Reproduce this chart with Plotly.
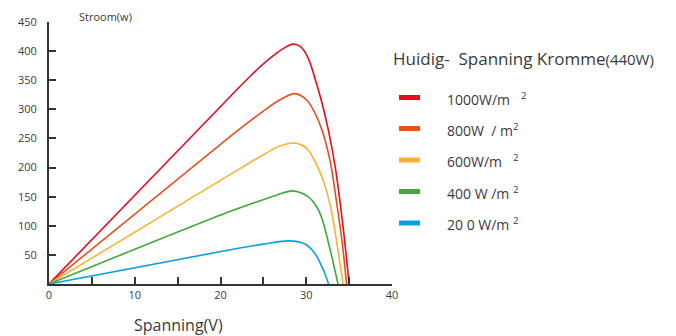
import plotly.graph_objects as go

# ---- data ----
series_names = ["1000W/m2", "800W/m2", "600W/m2", "400W/m2", "200W/m2"]
v_1000 = [0, 21, 23.4, 25, 26.5, 27.5, 28.4, 29.3, 30.2, 31.0, 31.8, 32.6, 33.4, 34.2, 35.0]
p_1000 = [0, 320, 356, 378, 396, 406, 412, 408, 389, 354, 313, 263, 199, 110, 0]
v_800 = [0, 21, 23, 25, 26.9, 28.7, 30.05, 31.0, 31.8, 32.8, 33.5, 34.2, 34.7]
p_800 = [0, 252, 275, 297, 316, 327, 316, 294, 266, 210, 144, 70, 0]
v_600 = [0, 21, 25, 26.9, 28.7, 30.05, 31.4, 32.4, 33.0, 33.55, 34.3]
p_600 = [0, 187, 222, 237, 242, 233, 199, 158, 121, 72, 0]
v_400 = [0, 21, 24.8, 26.6, 28.4, 30.2, 31.2, 31.8, 32.8, 33.7]
p_400 = [0, 124, 144, 153, 160, 150, 133, 114, 58, 0]
v_200 = [0, 21, 25, 28, 29.85, 31.0, 32.0, 32.6]
p_200 = [0, 58.5, 68.5, 74, 68.7, 52.7, 24, 0]

x_tickvals = [0, 5, 10, 15, 20, 25, 30, 35, 40]
x_ticktext = ["0", "", "10", "", "20", "", "30", "", "40"]
y_tickvals = [50, 100, 150, 200, 250, 300, 350, 400, 450]

legend_labels = [
    "1000W/m\u00a0\u00a0\u00a0<sup>2</sup>",
    "800W\u00a0\u00a0/\u00a0m<sup>2</sup>",
    "600W/m\u00a0\u00a0\u00a0<sup>2</sup>",
    "400\u00a0W\u00a0/m\u00a0<sup>2</sup>",
    "20\u00a00\u00a0W/m\u00a0<sup>2</sup>",
]
colors = ["#e30d1e", "#e8501e", "#f9b233", "#3cab3c", "#0a9fe0"]

xs = [v_1000, v_800, v_600, v_400, v_200]
ys = [p_1000, p_800, p_600, p_400, p_200]

W, H = 676, 336
L, R, T, B = 49, 284, 22, 52
PW, PH = W - L - R, H - T - B


def px(x):
    return (x - L) / PW


def py(y):
    return (H - B - y) / PH


fig = go.Figure()
for name, x, y, c in zip(series_names, xs, ys, colors):
    fig.add_trace(go.Scatter(x=x, y=y, name=name, mode="lines",
                             line=dict(color=c, width=1.6, shape="spline", smoothing=0.9),
                             showlegend=False, hoverinfo="skip"))

tick_font = dict(family="Open Sans", size=11, color="#3a3a3a")
fig.update_xaxes(range=[0, 40], tickvals=x_tickvals, ticktext=x_ticktext,
                 ticks="inside", ticklen=7, tickwidth=1.5, tickcolor="#333",
                 showline=True, linecolor="#333", linewidth=2, showgrid=False,
                 zeroline=False, tickfont=tick_font)
fig.update_yaxes(range=[0, 450], tickvals=y_tickvals,
                 ticks="inside", ticklen=7, tickwidth=1.5, tickcolor="#333",
                 showline=True, linecolor="#333", linewidth=2, showgrid=False,
                 zeroline=False, tickfont=tick_font, ticklabelstandoff=8)

ann = []
ann.append(dict(text="Stroom(w)", x=px(77), y=py(16), xref="paper", yref="paper",
                xanchor="left", yanchor="middle", showarrow=False,
                font=dict(family="Open Sans", size=11, color="#3a3a3a")))
ann.append(dict(text="Spanning(V)", x=px(132), y=py(325), xref="paper", yref="paper",
                xanchor="left", yanchor="middle", showarrow=False,
                font=dict(family="Open Sans", size=16, color="#3a3a3a")))
ann.append(dict(text="Huidig-\u00a0\u00a0Spanning Kromme<span style='font-size:15px'>(440W)</span>",
                x=px(391), y=py(58), xref="paper", yref="paper",
                xanchor="left", yanchor="middle", showarrow=False,
                font=dict(family="Open Sans", size=17, color="#3a3a3a")))

rows_y = [97.5, 128.5, 160, 191.5, 223]
shapes = []
for lab, c, ry in zip(legend_labels, colors, rows_y):
    shapes.append(dict(type="line", xref="paper", yref="paper",
                       x0=px(399), x1=px(420), y0=py(ry), y1=py(ry),
                       line=dict(color=c, width=5)))
    ann.append(dict(text=lab, x=px(445), y=py(ry + 1), xref="paper", yref="paper",
                    xanchor="left", yanchor="middle", showarrow=False,
                    font=dict(family="Open Sans", size=14, color="#3a3a3a")))

fig.update_layout(width=W, height=H, margin=dict(l=L, r=R, t=T, b=B, autoexpand=False),
                  paper_bgcolor="white", plot_bgcolor="white",
                  annotations=ann, shapes=shapes)

fig.write_html("out.html", config={"displayModeBar": False},
               post_script="document.body.style.margin='0';document.body.style.overflow='hidden';")
